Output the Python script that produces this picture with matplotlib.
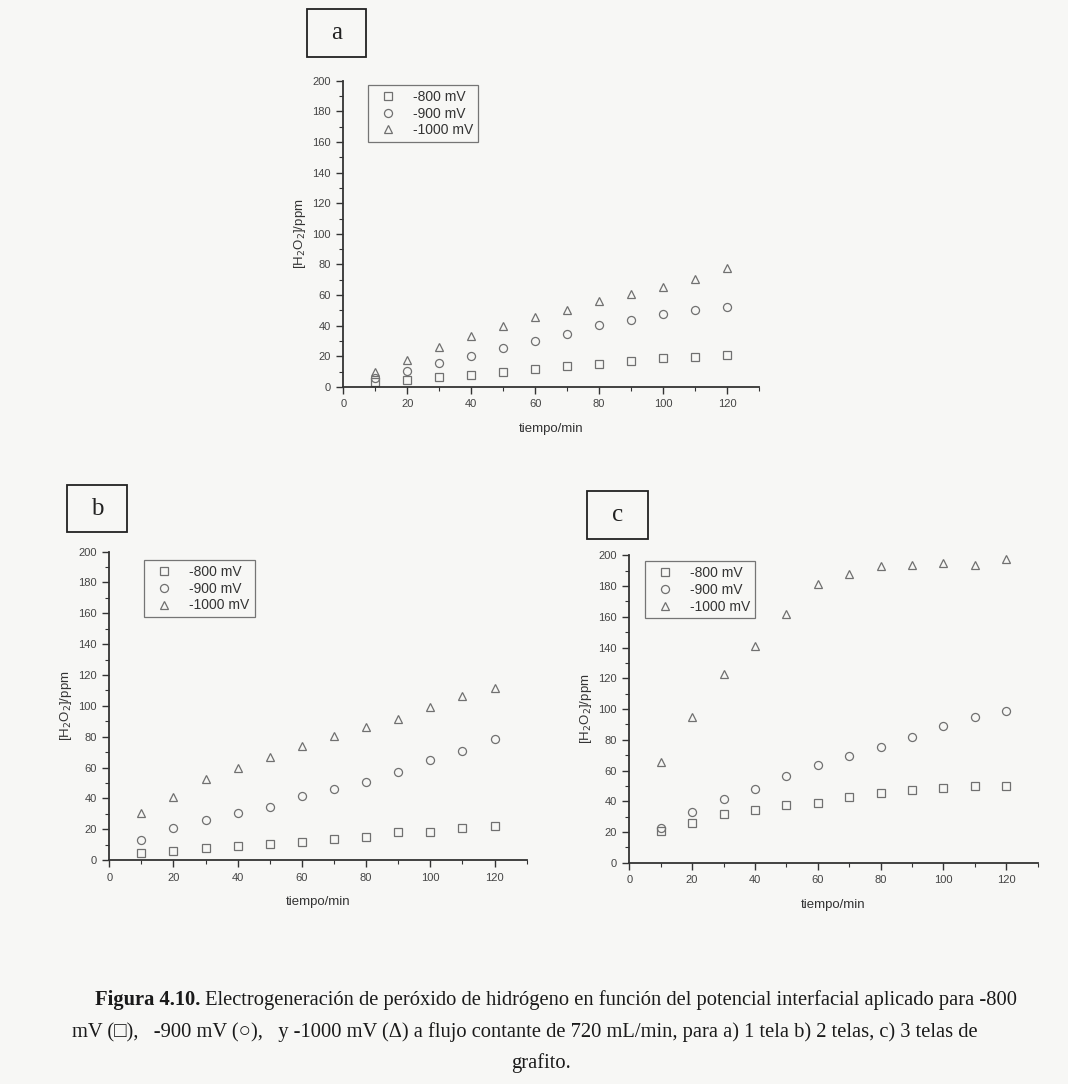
import matplotlib.pyplot as plt
from matplotlib.patches import Rectangle
from matplotlib.ticker import MultipleLocator

plt.rcParams['font.family'] = ['Liberation Sans', 'DejaVu Sans']

tiempo = [10, 20, 30, 40, 50, 60, 70, 80, 90, 100, 110, 120]
series_labels = ['-800 mV', '-900 mV', '-1000 mV']
markers = ['s', 'o', '^']

# panel a) 1 tela
a_800 = [3.5, 4.8, 6.3, 8.0, 9.8, 11.7, 13.7, 15.2, 17.2, 18.7, 19.8, 20.9]
a_900 = [6.0, 10.2, 15.9, 20.0, 25.2, 30.0, 34.8, 40.7, 43.5, 47.4, 50.2, 52.4]
a_1000 = [9.6, 17.8, 25.9, 33.5, 39.6, 45.4, 50.4, 56.3, 61.0, 65.2, 70.2, 77.4]

# panel b) 2 telas
b_800 = [4.3, 5.8, 7.6, 8.9, 10.6, 11.9, 13.6, 15.1, 17.9, 18.4, 20.8, 21.8]
b_900 = [13.0, 21.0, 26.2, 30.7, 34.4, 41.3, 45.8, 50.8, 56.9, 64.6, 70.7, 78.5]
b_1000 = [30.7, 41.1, 52.3, 59.5, 67.0, 73.9, 80.4, 86.3, 91.5, 99.0, 106.2, 111.8]

# panel c) 3 telas
c_800 = [20.6, 26.0, 31.9, 34.5, 37.7, 38.8, 42.5, 45.1, 47.1, 48.6, 50.1, 49.8]
c_900 = [22.3, 33.2, 41.6, 47.7, 56.6, 63.6, 69.4, 75.3, 81.6, 88.9, 94.8, 98.7]
c_1000 = [65.7, 95.0, 123.0, 140.8, 162.0, 181.3, 187.6, 193.3, 193.7, 194.8, 193.9, 197.6]

bg = '#f7f7f5'
fig = plt.figure(figsize=(10.68, 10.84), dpi=100, facecolor=bg)


def panel(rect, data, leg_xy, letter, box):
    ax = fig.add_axes(rect)
    ax.set_facecolor('none')
    for ys, m, lab in zip(data, markers, series_labels):
        ax.plot(tiempo, ys, linestyle='none', marker=m, markersize=5.8,
                markerfacecolor='none', markeredgecolor='#707070',
                markeredgewidth=0.9, label=lab)
    ax.set_xlim(0, 130)
    ax.set_ylim(0, 200)
    ax.xaxis.set_major_locator(MultipleLocator(20))
    ax.xaxis.set_minor_locator(MultipleLocator(10))
    ax.yaxis.set_major_locator(MultipleLocator(20))
    ax.yaxis.set_minor_locator(MultipleLocator(10))
    ax.set_xticks([0, 20, 40, 60, 80, 100, 120])
    for s in ['top', 'right']:
        ax.spines[s].set_visible(False)
    for s in ['left', 'bottom']:
        ax.spines[s].set_color('#333333')
        ax.spines[s].set_linewidth(1.3)
    ax.tick_params(which='major', direction='out', length=5, width=1,
                   color='#333333', labelsize=8, labelcolor='#444444', pad=4)
    ax.tick_params(which='minor', direction='out', length=3, width=0.8,
                   color='#333333')
    ax.set_xlabel('tiempo/min', fontsize=9.5, color='#333333', labelpad=10)
    ax.set_ylabel('[H$_2$O$_2$]/ppm', fontsize=9.5, color='#333333', labelpad=3)
    leg = ax.legend(loc='upper left', bbox_to_anchor=leg_xy, fontsize=10,
                    frameon=True, fancybox=False, handlelength=2.2,
                    handletextpad=0.7, borderpad=0.35, labelspacing=0.2,
                    borderaxespad=0)
    leg.get_frame().set_edgecolor('#555555')
    leg.get_frame().set_linewidth(0.9)
    leg.get_frame().set_facecolor('none')
    for t in leg.get_texts():
        t.set_color('#333333')

    # letter box above the panel
    x0, y0, w, h = box
    fig.add_artist(Rectangle((x0, y0), w, h, transform=fig.transFigure,
                             fill=False, edgecolor='#222222', linewidth=1.3))
    fig.text(x0 + w / 2, y0 + h / 2, letter, fontsize=18, ha='center',
             va='center', family='Liberation Serif', color='#222222')
    return ax


panel([0.3214, 0.6430, 0.3892, 0.2826], [a_800, a_900, a_1000],
      (0.059, 0.986), 'a', (306.7 / 1068, 1 - 57.3 / 1084, 59.3 / 1068, 48 / 1084))
panel([0.1023, 0.2066, 0.3908, 0.2845], [b_800, b_900, b_1000],
      (0.084, 0.973), 'b', (67.3 / 1068, 1 - 532.3 / 1084, 60 / 1068, 47.3 / 1084))
panel([0.5892, 0.2041, 0.3824, 0.2836], [c_800, c_900, c_1000],
      (0.038, 0.981), 'c', (587.3 / 1068, 1 - 539.3 / 1084, 60.4 / 1068, 48.6 / 1084))

# caption
cap_font = 'Liberation Serif'
cap_size = 14.8
bold = fig.text(95 / 1068, 1 - 1000 / 1084, 'Figura 4.10.', fontsize=cap_size,
                family=cap_font, weight='bold', va='center', color='#1a1a1a')
plt.annotate(' Electrogeneración de peróxido de hidrógeno en función del '
             'potencial interfacial aplicado para -800',
             xy=(1, 0.5), xycoords=bold, va='center', ha='left',
             fontsize=cap_size, family=cap_font, color='#1a1a1a',
             annotation_clip=False)
fig.text(525 / 1068, 1 - 1032 / 1084,
         'mV (\u25a1),   -900 mV (\u25cb),   y -1000 mV (\u0394) a flujo contante de '
         '720 mL/min, para a) 1 tela b) 2 telas, c) 3 telas de',
         fontsize=cap_size, family=[cap_font, 'DejaVu Sans'], ha='center',
         va='center', color='#1a1a1a')
fig.text(541 / 1068, 1 - 1063 / 1084, 'grafito.', fontsize=cap_size,
         family=cap_font, ha='center', va='center', color='#1a1a1a')

fig.savefig('out.png', dpi=100, facecolor=bg)
